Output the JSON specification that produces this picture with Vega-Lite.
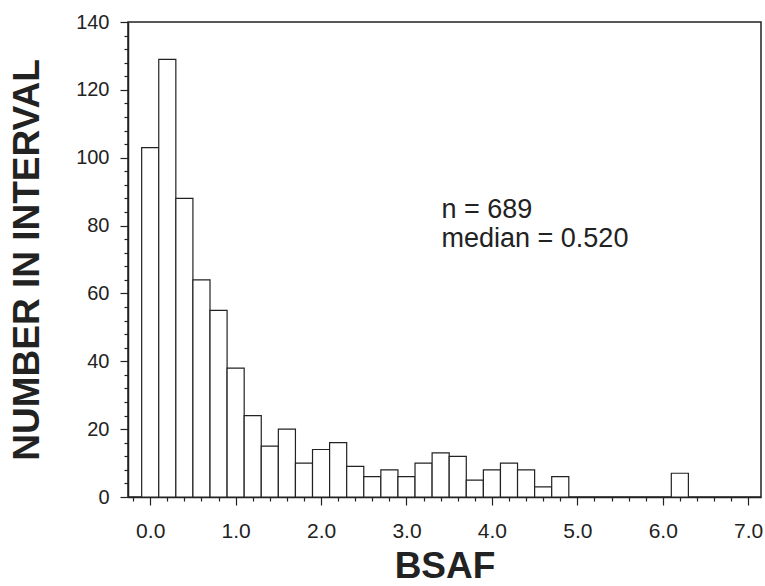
{
  "$schema": "https://vega.github.io/schema/vega-lite/v6.json",
  "autosize": {"type": "none"},
  "width": 633,
  "height": 475,
  "padding": {"left": 128, "top": 22, "right": 4, "bottom": 89},
  "background": "white",
  "view": {"stroke": "#222", "strokeWidth": 1.5},
  "config": {
    "font": "Liberation Sans",
    "axis": {"domainColor": "#222", "tickColor": "#222", "labelColor": "#222", "titleColor": "#222", "grid": false}
  },
  "datasets": {
    "bins": [
      {"bin_start": -0.1, "bin_end": 0.1, "count": 103},
      {"bin_start": 0.1, "bin_end": 0.3, "count": 129},
      {"bin_start": 0.3, "bin_end": 0.5, "count": 88},
      {"bin_start": 0.5, "bin_end": 0.7, "count": 64},
      {"bin_start": 0.7, "bin_end": 0.9, "count": 55},
      {"bin_start": 0.9, "bin_end": 1.1, "count": 38},
      {"bin_start": 1.1, "bin_end": 1.3, "count": 24},
      {"bin_start": 1.3, "bin_end": 1.5, "count": 15},
      {"bin_start": 1.5, "bin_end": 1.7, "count": 20},
      {"bin_start": 1.7, "bin_end": 1.9, "count": 10},
      {"bin_start": 1.9, "bin_end": 2.1, "count": 14},
      {"bin_start": 2.1, "bin_end": 2.3, "count": 16},
      {"bin_start": 2.3, "bin_end": 2.5, "count": 9},
      {"bin_start": 2.5, "bin_end": 2.7, "count": 6},
      {"bin_start": 2.7, "bin_end": 2.9, "count": 8},
      {"bin_start": 2.9, "bin_end": 3.1, "count": 6},
      {"bin_start": 3.1, "bin_end": 3.3, "count": 10},
      {"bin_start": 3.3, "bin_end": 3.5, "count": 13},
      {"bin_start": 3.5, "bin_end": 3.7, "count": 12},
      {"bin_start": 3.7, "bin_end": 3.9, "count": 5},
      {"bin_start": 3.9, "bin_end": 4.1, "count": 8},
      {"bin_start": 4.1, "bin_end": 4.3, "count": 10},
      {"bin_start": 4.3, "bin_end": 4.5, "count": 8},
      {"bin_start": 4.5, "bin_end": 4.7, "count": 3},
      {"bin_start": 4.7, "bin_end": 4.9, "count": 6},
      {"bin_start": 6.1, "bin_end": 6.3, "count": 7}
    ],
    "notes": [
      {"x": 3.41, "y": 82.2, "label": "n = 689"},
      {"x": 3.41, "y": 73.8, "label": "median = 0.520"}
    ]
  },
  "layer": [
    {
      "data": {"name": "bins"},
      "mark": {"type": "bar", "fill": "white", "stroke": "#222", "strokeWidth": 1.2},
      "encoding": {
        "x": {
          "field": "bin_start", "type": "quantitative",
          "scale": {"domain": [-0.26, 7.15], "nice": false, "zero": false},
          "axis": {
            "title": "BSAF", "values": [0, 1, 2, 3, 4, 5, 6, 7], "format": ".1f",
            "tickSize": 8, "tickWidth": 1.2, "domainWidth": 1.5,
            "labelFontSize": 21, "labelPadding": 15,
            "titleFontSize": 37, "titleFontWeight": "bold", "titlePadding": 7
          }
        },
        "x2": {"field": "bin_end"},
        "y": {
          "field": "count", "type": "quantitative",
          "scale": {"domain": [0, 140], "nice": false},
          "axis": {
            "title": "NUMBER IN INTERVAL", "values": [0, 20, 40, 60, 80, 100, 120, 140],
            "tickSize": 8, "tickWidth": 1.2, "domainWidth": 1.5,
            "labelFontSize": 20, "labelPadding": 11,
            "titleFontSize": 37, "titleFontWeight": "bold", "titlePadding": 29
          }
        },
        "y2": {"datum": 0}
      }
    },
    {
      "data": {"name": "notes"},
      "mark": {"type": "text", "align": "left", "baseline": "alphabetic", "fontSize": 27, "color": "#222"},
      "encoding": {
        "x": {
          "field": "x", "type": "quantitative",
          "axis": {
            "title": null, "labels": false, "domain": false, "orient": "bottom",
            "values": [-0.2, 0.2, 0.4, 0.6, 0.8, 1.2, 1.4, 1.6, 1.8, 2.2, 2.4, 2.6, 2.8, 3.2, 3.4, 3.6, 3.8, 4.2, 4.4, 4.6, 4.8, 5.2, 5.4, 5.6, 5.8, 6.2, 6.4, 6.6, 6.8],
            "tickSize": 4, "tickWidth": 1.2
          }
        },
        "y": {
          "field": "y", "type": "quantitative",
          "axis": {
            "title": null, "labels": false, "domain": false, "orient": "left",
            "values": [4, 8, 12, 16, 24, 28, 32, 36, 44, 48, 52, 56, 64, 68, 72, 76, 84, 88, 92, 96, 104, 108, 112, 116, 124, 128, 132, 136],
            "tickSize": 4, "tickWidth": 1.2
          }
        },
        "text": {"field": "label"}
      }
    }
  ],
  "resolve": {"axis": {"x": "independent", "y": "independent"}}
}
